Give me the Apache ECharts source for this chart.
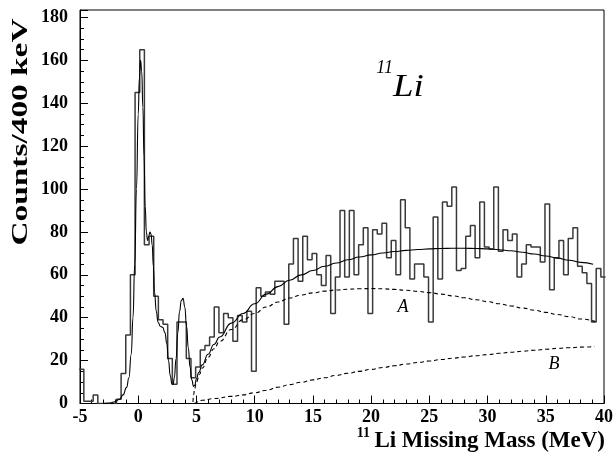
<!DOCTYPE html>
<html>
<head>
<meta charset="utf-8">
<script src="https://cdn.jsdelivr.net/npm/echarts@6/dist/echarts.min.js"></script>
<style>
html,body{margin:0;padding:0;background:#fff;}
#chart{width:616px;height:453px;}
</style>
</head>
<body>
<div id="chart"></div>
<script>
// ---- data ----
const firstBinEdge = -5.07;   // MeV, lower edge of first 400 keV bin
const binWidth = 0.4;         // MeV
const counts = [
  16, 1, 1, 4, 0, 0, 0, 0, 2, 14,
  32, 60, 145, 165, 74, 78, 50, 39, 37, 21,
  9, 38, 38, 21, 12, 17, 25, 27, 31, 45,
  33, 42, 40, 29, 41, 38, 43, 15, 54, 50,
  52, 51, 57, 57, 37, 65, 77, 57, 78, 67,
  70, 60, 55, 69, 42, 59, 90, 59, 90, 60,
  74, 82, 42, 81, 79, 84, 68, 76, 60, 95,
  82, 58, 65, 65, 59, 38, 87, 58, 94, 92,
  101, 62, 63, 78, 83, 68, 94, 73, 72, 101,
  71, 81, 76, 79, 59, 65, 74, 73, 73, 66,
  93, 53, 68, 76, 60, 77, 82, 64, 61, 56,
  38, 63, 59
];
// total fit curve
const fitTotal = [
  [-3.0, 0], [-2.5, 0.2], [-2.0, 0.8], [-1.6, 2], [-1.3, 4], [-1.0, 7.5], [-0.8, 12],
  [-0.6, 23], [-0.45, 40], [-0.3, 65], [-0.15, 100], [0.0, 135], [0.1, 152], [0.2, 160],
  [0.3, 155], [0.4, 138], [0.5, 115], [0.6, 92], [0.7, 80], [0.8, 76], [0.9, 78],
  [1.0, 80], [1.1, 79], [1.2, 74], [1.3, 64], [1.4, 52], [1.55, 43], [1.7, 38],
  [1.9, 36], [2.1, 35.5], [2.3, 33], [2.45, 28], [2.6, 20], [2.75, 13], [2.9, 9],
  [3.0, 9], [3.1, 12], [3.25, 21], [3.4, 33], [3.55, 43], [3.7, 48], [3.85, 49],
  [4.0, 45], [4.15, 36], [4.3, 26], [4.45, 17], [4.6, 11], [4.75, 8], [4.85, 8.5],
  [5.0, 11.5], [5.2, 14.5], [5.5, 18], [6.0, 23], [6.5, 27.5], [7.0, 31], [8.0, 37.5],
  [9.0, 42], [10.0, 46.5], [11.0, 51], [12.0, 54.5], [13.0, 57.5], [14.0, 60], [15.0, 62],
  [16.0, 64], [17.0, 65.5], [18.0, 67], [19.0, 68.3], [20.0, 69.3], [21.0, 70.2],
  [22.0, 70.9], [23.0, 71.4], [24.0, 71.8], [25.0, 72.1], [26.0, 72.3], [27.0, 72.4],
  [28.0, 72.4], [29.0, 72.3], [30.0, 72.1], [31.0, 71.7], [32.0, 71.2], [33.0, 70.5],
  [34.0, 69.7], [35.0, 68.8], [36.0, 67.8], [37.0, 66.8], [38.0, 65.8], [39.07, 64.9]
];
// component A (dashed)
const fitA = [
  [-3.0, 0], [4.68, 0], [4.75, 4], [4.85, 7], [5.0, 10], [5.25, 13.5], [5.5, 16.5],
  [6.0, 21.5], [6.5, 25.5], [7.0, 29], [8.0, 34.5], [9.0, 39], [10.0, 42], [11.0, 45],
  [12.0, 47.3], [13.0, 49.2], [14.0, 50.6], [15.0, 51.6], [16.0, 52.4], [17.0, 52.9],
  [18.0, 53.3], [19.0, 53.5], [20.0, 53.6], [21.0, 53.5], [22.0, 53.2], [23.0, 52.8],
  [24.0, 52.3], [25.0, 51.7], [26.0, 51], [27.0, 50.2], [28.0, 49.3], [29.0, 48.4],
  [30.0, 47.5], [31.0, 46.5], [32.0, 45.5], [33.0, 44.5], [34.0, 43.5], [35.0, 42.5],
  [36.0, 41.5], [37.0, 40.5], [38.0, 39.4], [39.26, 38.2]
];
// component B (dashed)
const fitB = [
  [-3.0, 0], [4.68, 0], [5.5, 1.5], [6.5, 2.3], [8.0, 3.3], [9.0, 4], [10.0, 5],
  [11.0, 6.2], [12.0, 7.6], [13.0, 8.8], [14.0, 9.9], [15.0, 11], [16.0, 12], [17.0, 13.1],
  [18.0, 14.1], [19.0, 15], [20.0, 15.9], [21.0, 16.8], [22.0, 17.6], [23.0, 18.4],
  [24.0, 19.1], [25.0, 19.8], [26.0, 20.5], [27.0, 21.1], [28.0, 21.7], [29.0, 22.3],
  [30.0, 22.8], [31.0, 23.4], [32.0, 23.9], [33.0, 24.4], [34.0, 24.8], [35.0, 25.3],
  [36.0, 25.7], [37.0, 26], [38.0, 26.3], [39.2, 26.6]
];
const xTicks = { min: -5, max: 40, step: 5 };
const yTicks = { min: 0, max: 183.5, step: 20 };

// histogram outline points (bin edge, count)
const histPoints = counts.map((c, k) => [firstBinEdge + binWidth * k, c]);
histPoints.push([firstBinEdge + binWidth * counts.length, counts[counts.length - 1]]);

const FONT = "'Liberation Serif', 'DejaVu Serif', serif";
const chart = echarts.init(document.getElementById('chart'), null, {renderer: 'canvas'});
const curve = (data, dashed) => ({
  type: 'line', data: data, smooth: 0.5, smoothMonotone: 'x', showSymbol: false, symbol: 'none',
  lineStyle: {color: '#000', width: 1.1, type: dashed ? [4, 3] : 'solid'}, clip: true, z: 3
});
chart.setOption({
  animation: false,
  backgroundColor: '#fff',
  grid: {left: 80, right: 9, top: 10, bottom: 49.5, show: true, borderColor: '#000', borderWidth: 1, backgroundColor: 'transparent'},
  xAxis: {
    type: 'value', min: xTicks.min, max: xTicks.max, interval: xTicks.step,
    axisLine: {onZero: false, lineStyle: {color: '#000', width: 1}},
    axisTick: {inside: true, length: 8, lineStyle: {color: '#000'}},
    minorTick: {show: true, splitNumber: 5, length: 4, lineStyle: {color: '#000'}},
    splitLine: {show: false},
    axisLabel: {color: '#000', fontFamily: FONT, fontWeight: 'bold', fontSize: 18, margin: 5}
  },
  yAxis: {
    type: 'value', min: yTicks.min, max: yTicks.max, interval: yTicks.step,
    axisLine: {onZero: false, lineStyle: {color: '#000', width: 1}},
    axisTick: {inside: true, length: 8, lineStyle: {color: '#000'}},
    minorTick: {show: true, splitNumber: 4, length: 4, lineStyle: {color: '#000'}},
    splitLine: {show: false},
    axisLabel: {color: '#000', fontFamily: FONT, fontWeight: 'bold', fontSize: 18, margin: 12,
      formatter: v => (Math.abs(v % yTicks.step) < 1e-6 ? String(v) : '')}
  },
  series: [
    {type: 'line', data: histPoints, step: 'end', showSymbol: false, symbol: 'none',
     lineStyle: {color: '#3a3a3a', width: 1.5}, clip: true, z: 2},
    curve(fitTotal, false),
    curve(fitA, true),
    curve(fitB, true)
  ],
  graphic: [
    {type: 'text', x: 21, y: 132, rotation: Math.PI / 2, scaleX: 1.45,
     style: {text: 'Counts/400 keV', font: "bold 23px " + FONT, fill: '#000', textAlign: 'center', textVerticalAlign: 'middle'}},
    {type: 'text', x: 605, y: 441,
     style: {text: 'Li Missing Mass (MeV)', font: "bold 23px " + FONT, fill: '#000', textAlign: 'right', textVerticalAlign: 'middle'}},
    {type: 'text', x: 370, y: 433,
     style: {text: '11', font: "bold 14px " + FONT, fill: '#000', textAlign: 'right', textVerticalAlign: 'middle'}},
    {type: 'text', x: 393, y: 88, scaleX: 1.15,
     style: {text: 'Li', font: "italic 32px " + FONT, fill: '#000', textAlign: 'left', textVerticalAlign: 'middle'}},
    {type: 'text', x: 393, y: 68,
     style: {text: '11', font: "italic 18px " + FONT, fill: '#000', textAlign: 'right', textVerticalAlign: 'middle'}},
    {type: 'text', x: 403, y: 307,
     style: {text: 'A', font: "italic 18px " + FONT, fill: '#000', textAlign: 'center', textVerticalAlign: 'middle'}},
    {type: 'text', x: 554, y: 364,
     style: {text: 'B', font: "italic 18px " + FONT, fill: '#000', textAlign: 'center', textVerticalAlign: 'middle'}}
  ]
});
</script>
</body>
</html>
